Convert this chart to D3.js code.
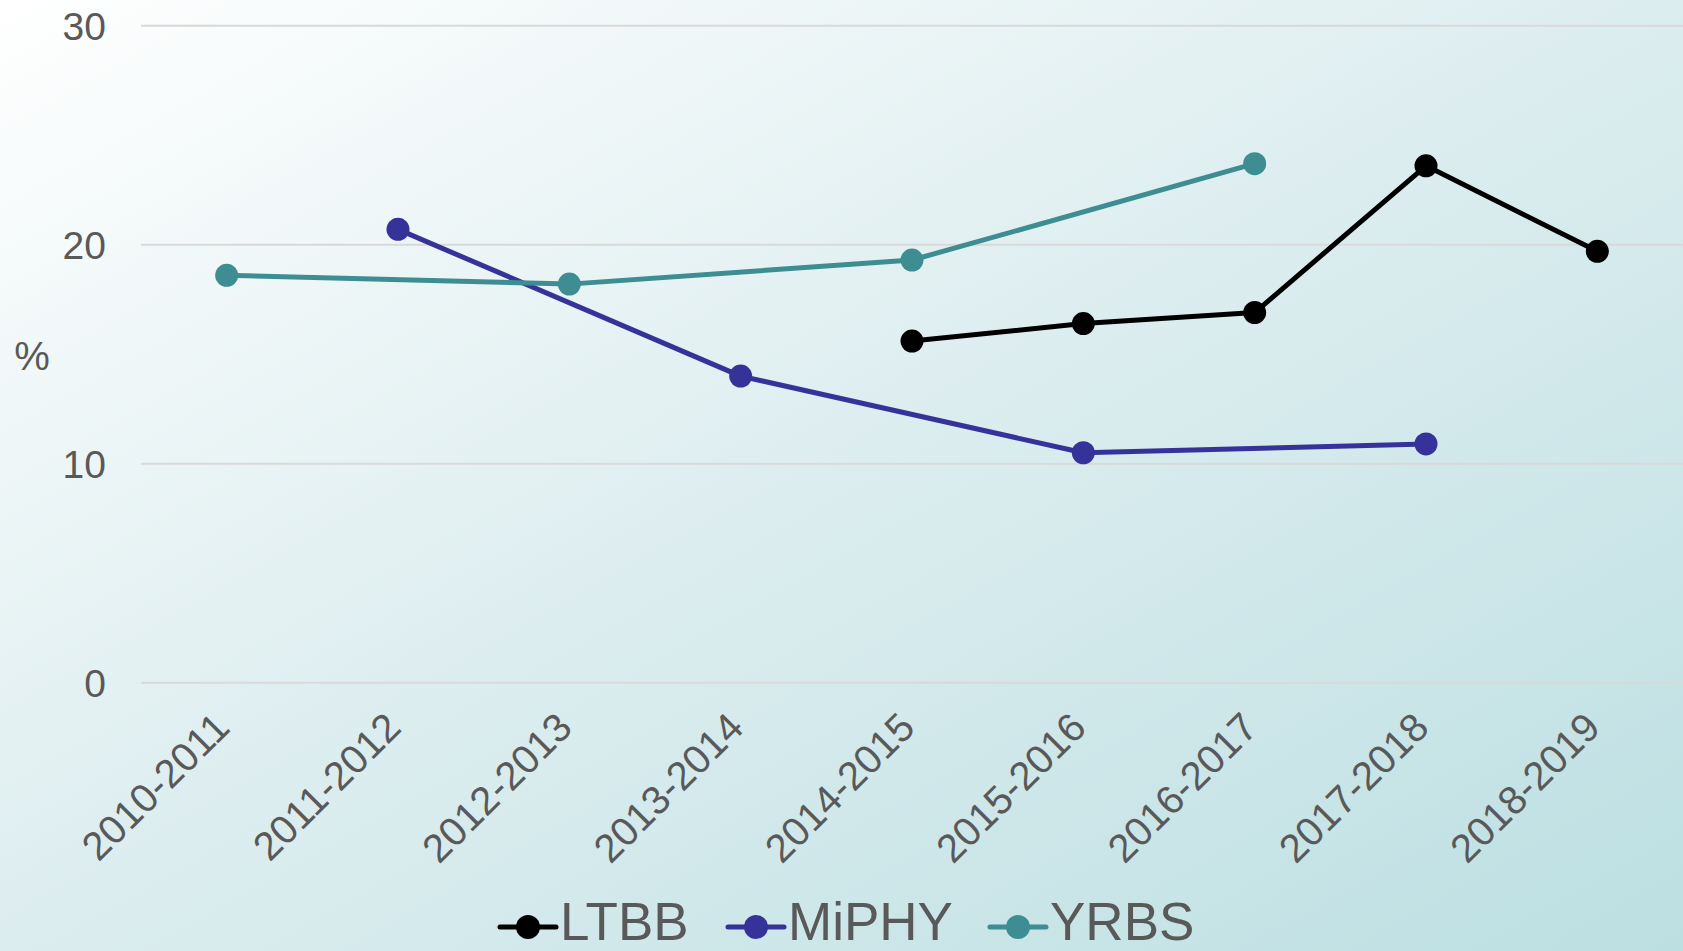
<!DOCTYPE html>
<html>
<head>
<meta charset="utf-8">
<script src="https://cdn.jsdelivr.net/npm/d3@7"></script>
<style>
  html, body { margin: 0; padding: 0; }
  body { width: 1683px; height: 951px; overflow: hidden; }
  text { font-family: "Liberation Sans", Arial, sans-serif; fill: #595959; }
</style>
</head>
<body>
<svg id="chart" width="1683" height="951"></svg>
<script>
const categories = ["2010-2011","2011-2012","2012-2013","2013-2014","2014-2015","2015-2016","2016-2017","2017-2018","2018-2019"];
const ltbb  = [null, null, null, null, 15.6, 16.4, 16.9, 23.6, 19.7];
const miphy = [null, 20.7, null, 14.0, null, 10.5, null, 10.9, null];
const yrbs  = [18.6, null, 18.2, null, 19.3, null, 23.7, null, null];
const seriesNames = ["LTBB", "MiPHY", "YRBS"];
const seriesColors = ["#000000", "#35339a", "#3d8d92"];
const yTicks = [0, 10, 20, 30];

const W = 1683, H = 951;
const svg = d3.select("#chart");

const defs = svg.append("defs");
const grad = defs.append("linearGradient").attr("id", "bg")
  .attr("x1", "0").attr("y1", "0").attr("x2", "1").attr("y2", "1");
grad.append("stop").attr("offset", "0%").attr("stop-color", "#ffffff");
grad.append("stop").attr("offset", "50%").attr("stop-color", "#dcedef");
grad.append("stop").attr("offset", "100%").attr("stop-color", "#bcdfe2");
svg.append("rect").attr("width", W).attr("height", H).attr("fill", "url(#bg)");

const plot = {left: 141, right: 1683, top: 25.7, bottom: 682.7};
const x = d3.scaleBand().domain(categories).range([plot.left, plot.right]);
const y = d3.scaleLinear().domain([0, 30]).range([plot.bottom, plot.top]);
const cx = c => x(c) + x.bandwidth() / 2;

// gridlines
svg.append("g").selectAll("line").data(yTicks).join("line")
  .attr("x1", plot.left).attr("x2", plot.right)
  .attr("y1", d => y(d)).attr("y2", d => y(d))
  .attr("stroke", "#d9d9d9").attr("stroke-width", 2);

// y axis labels
const yAxis = d3.axisLeft(y).tickValues(yTicks).tickSize(0).tickPadding(0);
const gy = svg.append("g").attr("transform", `translate(106,0)`).call(yAxis);
gy.select(".domain").remove();
gy.selectAll("text").style("font-size", "39px").attr("fill", "#595959")
  .style("font-family", "Liberation Sans, Arial, sans-serif").attr("dy", "0.35em");

svg.append("text").attr("x", 32).attr("y", 356).attr("text-anchor", "middle")
  .attr("dy", "0.35em").style("font-size", "40px").text("%");

// x axis labels
const xAxis = d3.axisBottom(x).tickSize(0).tickPadding(0);
const gx = svg.append("g").attr("transform", `translate(0,${plot.bottom})`).call(xAxis);
gx.select(".domain").remove();
gx.selectAll(".tick text")
  .style("font-size", "40px").attr("fill", "#595959")
  .style("font-family", "Liberation Sans, Arial, sans-serif")
  .attr("text-anchor", "end")
  .attr("dy", "0")
  .attr("y", 0)
  .attr("transform", "translate(5,47) rotate(-45)");

// series
const allSeries = [ltbb, miphy, yrbs];
allSeries.forEach((vals, i) => {
  const pts = categories.map((c, j) => ({c, v: vals[j]})).filter(d => d.v !== null);
  const line = d3.line().x(d => cx(d.c)).y(d => y(d.v));
  svg.append("path").datum(pts).attr("d", line)
    .attr("fill", "none").attr("stroke", seriesColors[i]).attr("stroke-width", 5)
    .attr("stroke-linejoin", "round");
  svg.append("g").selectAll("circle").data(pts).join("circle")
    .attr("cx", d => cx(d.c)).attr("cy", d => y(d.v)).attr("r", 11.5)
    .attr("fill", seriesColors[i]);
});

// legend
const legendX = [500, 728, 990];
const legendY = 927;
const lg = svg.append("g");
seriesNames.forEach((name, i) => {
  const g = lg.append("g").attr("transform", `translate(${legendX[i]},${legendY})`);
  g.append("line").attr("x1", 0).attr("x2", 56).attr("y1", 0).attr("y2", 0)
    .attr("stroke", seriesColors[i]).attr("stroke-width", 5).attr("stroke-linecap", "round");
  g.append("circle").attr("cx", 28).attr("cy", 0).attr("r", 12).attr("fill", seriesColors[i]);
  g.append("text").attr("x", 60).attr("y", 12.5).style("font-size", "53px").text(name);
});
</script>
</body>
</html>
